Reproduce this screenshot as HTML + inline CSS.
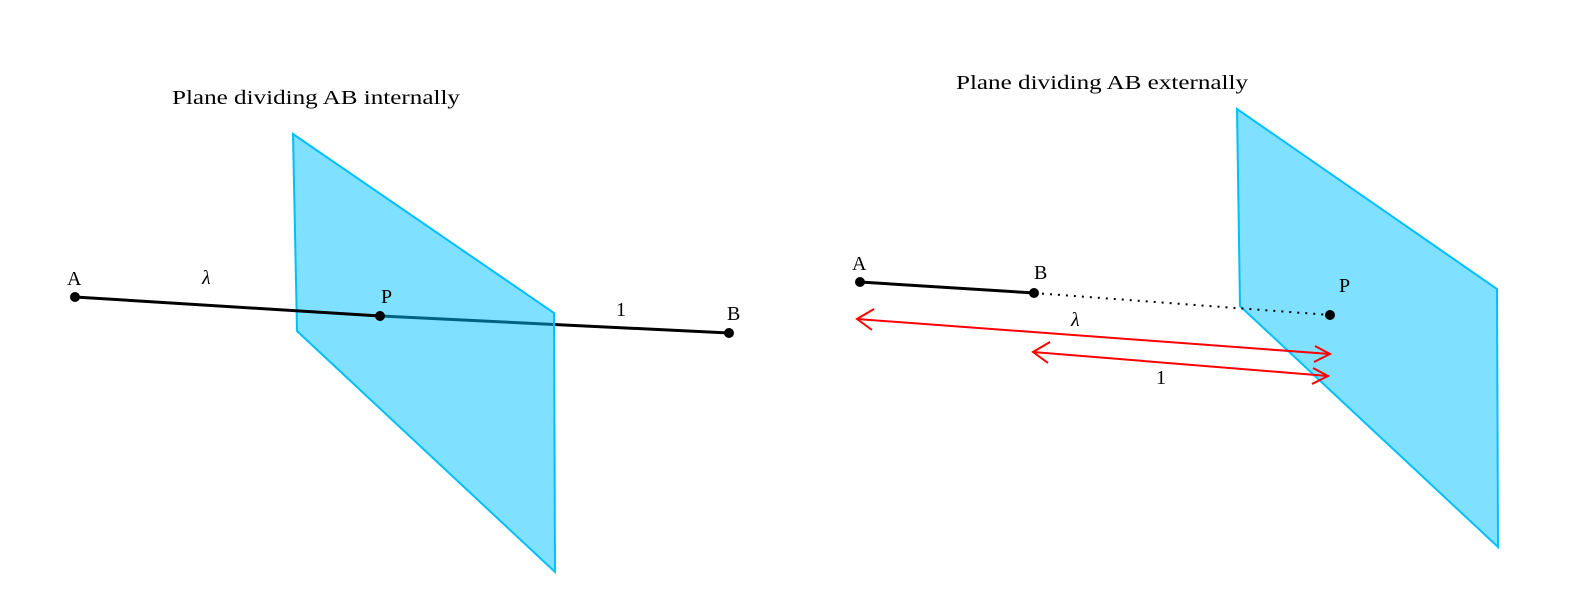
<!DOCTYPE html>
<html><head><style>body{margin:0;background:#fff}svg{display:block}text{font-family:"Liberation Serif",serif;font-size:20px;fill:#000}</style></head><body>
<svg width="1583" height="603" viewBox="0 0 1583 603">
<text x="172" y="104" font-size="21" textLength="288" lengthAdjust="spacingAndGlyphs">Plane dividing AB internally</text>
<text x="956" y="89" font-size="21" textLength="292" lengthAdjust="spacingAndGlyphs">Plane dividing AB externally</text>
<line x1="380" y1="316" x2="729" y2="333" stroke="#000" stroke-width="3"/>
<polygon points="293,134 554,313 555,572 297,331" fill="rgba(0,195,255,0.5)" stroke="#00bfff" stroke-width="2"/>
<line x1="75" y1="297" x2="380" y2="316" stroke="#000" stroke-width="3"/>
<circle cx="75" cy="297" r="5"/><circle cx="380" cy="316" r="5"/><circle cx="729" cy="333" r="5"/>
<text x="67" y="285">A</text><text x="381" y="303">P</text><text x="727" y="320">B</text>
<text x="616" y="316">1</text><text x="202" y="284" font-style="italic" font-size="28">λ</text>
<polygon points="1237,109 1497,289 1498,547 1240,306" fill="rgba(0,195,255,0.5)" stroke="#00bfff" stroke-width="2"/>
<line x1="860" y1="282" x2="1034" y2="293" stroke="#000" stroke-width="3"/>
<line x1="1034" y1="293" x2="1330" y2="315" stroke="#000" stroke-width="2" stroke-dasharray="2,6"/>
<circle cx="860" cy="282" r="5"/><circle cx="1034" cy="293" r="5"/><circle cx="1330" cy="315" r="5"/>
<text x="852" y="270">A</text><text x="1034" y="279">B</text><text x="1339" y="292">P</text>
<g stroke="#f00" stroke-width="2" fill="none">
<line x1="857" y1="319" x2="1330" y2="354"/>
<polyline points="874,309 857,319 872,330"/><polyline points="1315,346 1330,354 1314,362"/>
<line x1="1033" y1="352" x2="1328" y2="376"/>
<polyline points="1050,342 1033,352 1048,363"/><polyline points="1313,368 1328,376 1312,384"/>
</g>
<text x="1071" y="326" font-style="italic" font-size="28">λ</text><text x="1156" y="384">1</text>
</svg></body></html>
